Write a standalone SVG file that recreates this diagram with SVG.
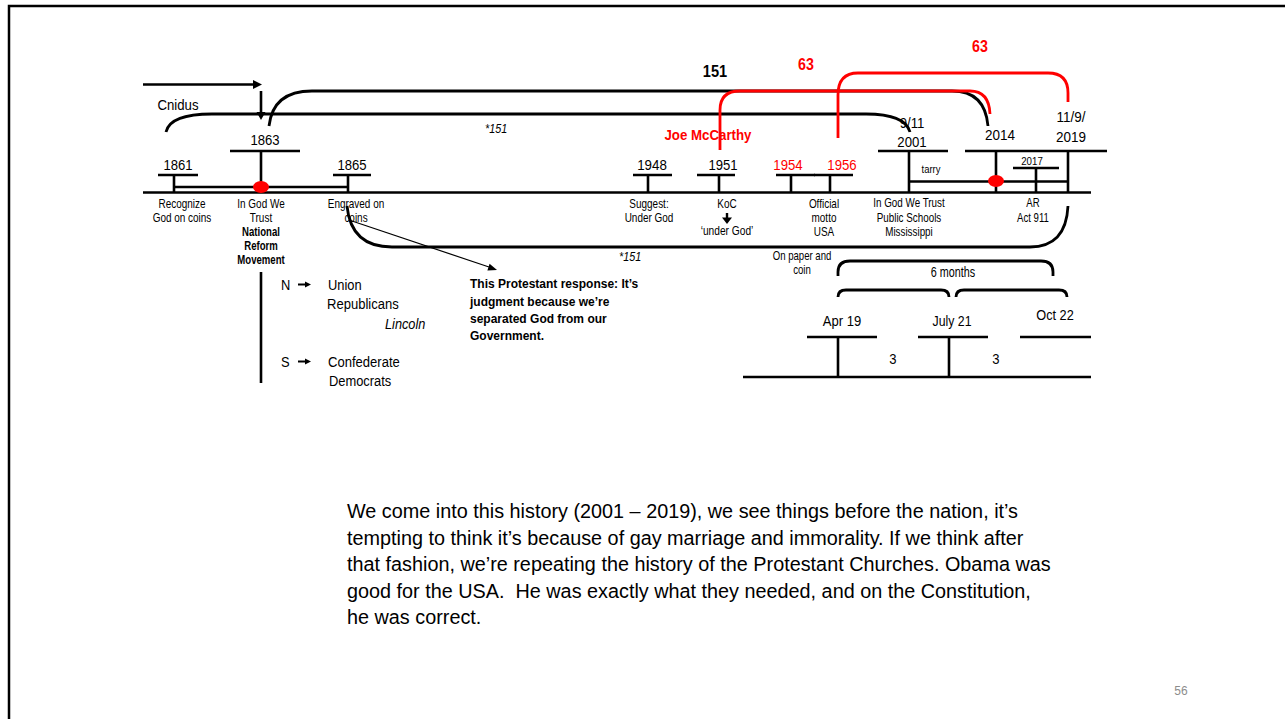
<svg xmlns="http://www.w3.org/2000/svg" width="1285" height="719" viewBox="0 0 1285 719">
<style>
text{font-family:"Liberation Sans",Arial,sans-serif;fill:#000}
.yr{font-size:15px;text-anchor:middle}
.red{fill:#ff0000}
.sm{font-size:12px;text-anchor:middle}
.xs{font-size:11px;text-anchor:middle}
.b{font-weight:bold}
.md{font-size:15px}
.it{font-style:italic;font-size:13px}
.ln{stroke:#000;stroke-width:2.6;fill:none}
.thin{stroke:#000;stroke-width:1.2;fill:none}
.rc{stroke:#ff0000;stroke-width:2.8;fill:none}
.bc{stroke:#000;stroke-width:2.8;fill:none}
.para{font-size:21px}
.bold14{font-weight:bold;font-size:13.5px}
</style>
<rect width="1285" height="719" fill="#fff"/>
<path d="M9,719 V6 H1285" stroke="#000" stroke-width="2.5" fill="none"/>

<g id="axis">
<line class="ln" x1="143" y1="192.5" x2="1091" y2="192.5"/>
<line class="ln" x1="174" y1="187" x2="348" y2="187"/>
<line class="ln" x1="909" y1="181.5" x2="1068" y2="181.5"/>
</g>

<g id="connectors">
<line class="ln" x1="143" y1="84.5" x2="255" y2="84.5"/>
<polygon points="253,80 262,84.5 253,89"/>
<line class="ln" x1="261" y1="91" x2="261" y2="113"/>
<polygon points="256.5,112 261,120 265.5,112"/>
<path class="bc" d="M166,132 Q170,114 212,114 L866,114 Q905,114 910,132"/>
<path class="bc" d="M269,126 Q273,91 312,91 L952,91 Q985,91 988,126"/>
<path class="rc" d="M720,150 L720,110 Q720,91 740,91 L970,91 Q989,91 990,114"/>
<path class="rc" d="M838,138 L838,95 Q838,73 858,73 L1048,73 Q1068,73 1068,93 L1068,102"/>
<path class="bc" d="M347,206 Q351,247 392,247 L1030,247 Q1066,247 1068,206"/>
<line class="thin" x1="349" y1="220" x2="489" y2="267"/>
<polygon points="497,270 487.4,270.4 489.6,263.8"/>
<path class="bc" d="M838,276 L838,272 Q838,261 850,261 L1041,261 Q1053,261 1053,272 L1053,276"/>
<path class="bc" d="M838,297 Q838,290 846,290 L941,290 Q949,290 949,297"/>
<path class="bc" d="M956,297 Q956,290 964,290 L1059,290 Q1067,290 1067,297"/>
</g>

<g id="n1861">
<line class="ln" x1="158" y1="175" x2="198" y2="175"/>
<line class="ln" x1="174" y1="175" x2="174" y2="192"/>
<text class="yr" transform="translate(178,170) scale(.875,1)">1861</text>
<text class="sm" transform="translate(182,208) scale(.83,1)">Recognize</text>
<text class="sm" transform="translate(182,222) scale(.83,1)">God on coins</text>
</g>

<g id="n1863">
<line class="ln" x1="230" y1="151" x2="300" y2="151"/>
<line class="ln" x1="261" y1="151" x2="261" y2="192"/>
<ellipse cx="261" cy="187" rx="8" ry="6" fill="#ff0000"/>
<text class="yr" transform="translate(265,145) scale(.875,1)">1863</text>
<text class="md" transform="translate(157.5,110) scale(.88,1)">Cnidus</text>
<text class="sm" transform="translate(261,208) scale(.83,1)">In God We</text>
<text class="sm" transform="translate(261,222) scale(.83,1)">Trust</text>
<text class="sm b" transform="translate(261,236) scale(.8,1)">National</text>
<text class="sm b" transform="translate(261,250) scale(.8,1)">Reform</text>
<text class="sm b" transform="translate(261,264) scale(.8,1)">Movement</text>
<line class="ln" x1="261" y1="272" x2="261" y2="383"/>
</g>

<g id="nNS">
<text class="md" transform="translate(281,290) scale(.86,1)">N</text>
<line stroke="#000" stroke-width="2" x1="298" y1="284.5" x2="307" y2="284.5"/>
<polygon points="305,281.5 311,284.5 305,287.5"/>
<text class="md" transform="translate(328,290) scale(.86,1)">Union</text>
<text class="md" transform="translate(327,309) scale(.87,1)">Republicans</text>
<text class="md" font-style="italic" transform="translate(385,329) scale(.85,1)">Lincoln</text>
<text class="md" transform="translate(281,367) scale(.86,1)">S</text>
<line stroke="#000" stroke-width="2" x1="298" y1="361.5" x2="307" y2="361.5"/>
<polygon points="305,358.5 311,361.5 305,364.5"/>
<text class="md" transform="translate(328,367) scale(.87,1)">Confederate</text>
<text class="md" transform="translate(329,386) scale(.86,1)">Democrats</text>
</g>

<g id="n1865">
<line class="ln" x1="333" y1="175" x2="371" y2="175"/>
<line class="ln" x1="348" y1="175" x2="348" y2="192"/>
<text class="yr" transform="translate(352,170) scale(.875,1)">1865</text>
<text class="sm" transform="translate(356,208) scale(.83,1)">Engraved on</text>
<text class="sm" transform="translate(356,222) scale(.83,1)">coins</text>
</g>

<g id="nNote">
<text class="it" transform="translate(485,133) scale(.83,1)">*151</text>
<text class="it" transform="translate(619,261) scale(.83,1)">*151</text>
<text class="bold14" transform="translate(470,288) scale(.89,1)">This Protestant response: It’s</text>
<text class="bold14" transform="translate(470,306) scale(.89,1)">judgment because we’re</text>
<text class="bold14" transform="translate(470,323) scale(.89,1)">separated God from our</text>
<text class="bold14" transform="translate(470,340) scale(.89,1)">Government.</text>
<text class="b" font-size="17px" text-anchor="middle" transform="translate(715,77) scale(.86,1)">151</text>
<text class="b red" font-size="16px" text-anchor="middle" transform="translate(806,70) scale(.89,1)">63</text>
<text class="b red" font-size="16px" text-anchor="middle" transform="translate(980,52) scale(.89,1)">63</text>
<text class="b red" font-size="15px" text-anchor="middle" transform="translate(708,140) scale(.885,1)">Joe McCarthy</text>
</g>

<g id="n1948">
<line class="ln" x1="633" y1="175" x2="672" y2="175"/>
<line class="ln" x1="648" y1="175" x2="648" y2="192"/>
<text class="yr" transform="translate(652,170) scale(.89,1)">1948</text>
<text class="sm" transform="translate(649,208) scale(.83,1)">Suggest:</text>
<text class="sm" transform="translate(649,222) scale(.83,1)">Under God</text>
</g>

<g id="n1951">
<line class="ln" x1="697" y1="175" x2="735" y2="175"/>
<line class="ln" x1="719" y1="175" x2="719" y2="192"/>
<text class="yr" transform="translate(723,170) scale(.875,1)">1951</text>
<text class="sm" transform="translate(727,208) scale(.83,1)">KoC</text>
<line stroke="#000" stroke-width="2.4" x1="727" y1="213" x2="727" y2="219"/>
<polygon points="722,217.5 732,217.5 727,224"/>
<text class="sm" transform="translate(727,235) scale(.85,1)">‘under God’</text>
</g>

<g id="n1954">
<line class="ln" x1="776" y1="175" x2="815" y2="175"/>
<line class="ln" x1="791" y1="175" x2="791" y2="192"/>
<text class="yr red" transform="translate(788,170) scale(.88,1)">1954</text>
</g>

<g id="n1956">
<line class="ln" x1="814" y1="175" x2="853" y2="175"/>
<line class="ln" x1="830" y1="175" x2="830" y2="192"/>
<text class="yr red" transform="translate(842,170) scale(.88,1)">1956</text>
<text class="sm" transform="translate(824,208) scale(.83,1)">Official</text>
<text class="sm" transform="translate(824,222) scale(.83,1)">motto</text>
<text class="sm" transform="translate(824,236) scale(.83,1)">USA</text>
<text class="sm" transform="translate(802,260) scale(.8,1)">On paper and</text>
<text class="sm" transform="translate(802,274) scale(.8,1)">coin</text>
</g>

<g id="n2001">
<line class="ln" x1="878" y1="151" x2="948" y2="151"/>
<line class="ln" x1="909" y1="151" x2="909" y2="192"/>
<text class="yr" transform="translate(912,128) scale(.88,1)">9/11</text>
<text class="yr" transform="translate(912,147) scale(.88,1)">2001</text>
<text class="xs" transform="translate(931,173) scale(.86,1)">tarry</text>
<text class="sm" transform="translate(909,207) scale(.82,1)">In God We Trust</text>
<text class="sm" transform="translate(909,222) scale(.82,1)">Public Schools</text>
<text class="sm" transform="translate(909,236) scale(.82,1)">Mississippi</text>
</g>

<g id="n2014">
<line class="ln" x1="965" y1="151" x2="1107" y2="151"/>
<line class="ln" x1="996" y1="151" x2="996" y2="192"/>
<ellipse cx="996" cy="181" rx="8" ry="6" fill="#ff0000"/>
<text class="yr" transform="translate(1000,140) scale(.9,1)">2014</text>
</g>

<g id="n2017">
<line class="ln" x1="1013" y1="168" x2="1059" y2="168"/>
<line class="ln" x1="1036" y1="168" x2="1036" y2="192"/>
<text class="xs" transform="translate(1032,165) scale(.88,1)">2017</text>
<text class="sm" transform="translate(1033,207) scale(.8,1)">AR</text>
<text class="sm" transform="translate(1033,222) scale(.8,1)">Act 911</text>
</g>

<g id="n2019">
<line class="ln" x1="1068" y1="151" x2="1068" y2="192"/>
<text class="yr" transform="translate(1071,122) scale(.9,1)">11/9/</text>
<text class="yr" transform="translate(1071,142) scale(.9,1)">2019</text>
</g>

<g id="nMonths">
<line class="ln" x1="743" y1="377" x2="1091" y2="377"/>
<line class="ln" x1="807" y1="337" x2="877" y2="337"/>
<line class="ln" x1="918" y1="337" x2="988" y2="337"/>
<line class="ln" x1="1020" y1="337" x2="1091" y2="337"/>
<line class="ln" x1="838" y1="337" x2="838" y2="377"/>
<line class="ln" x1="949" y1="337" x2="949" y2="377"/>
<text class="yr" transform="translate(953,277) scale(.72,1)">6 months</text>
<text class="yr" transform="translate(842,326) scale(.87,1)">Apr 19</text>
<text class="yr" transform="translate(952,326) scale(.82,1)">July 21</text>
<text class="yr" transform="translate(1055,320) scale(.85,1)">Oct 22</text>
<text class="yr" transform="translate(893,364) scale(.87,1)">3</text>
<text class="yr" transform="translate(996,364) scale(.87,1)">3</text>
</g>

<g id="paragraph">
<text class="para" transform="translate(347,518) scale(.944,1)">We come into this history (2001 – 2019), we see things before the nation, it’s</text>
<text class="para" transform="translate(347,545) scale(.944,1)">tempting to think it’s because of gay marriage and immorality. If we think after</text>
<text class="para" transform="translate(347,571) scale(.944,1)">that fashion, we’re repeating the history of the Protestant Churches. Obama was</text>
<text class="para" xml:space="preserve" transform="translate(347,598) scale(.944,1)">good for the USA.  He was exactly what they needed, and on the Constitution,</text>
<text class="para" transform="translate(347,624) scale(.944,1)">he was correct.</text>
</g>

<text x="1181" y="695" font-size="12px" text-anchor="middle" style="fill:#8c8c8c">56</text>
</svg>
